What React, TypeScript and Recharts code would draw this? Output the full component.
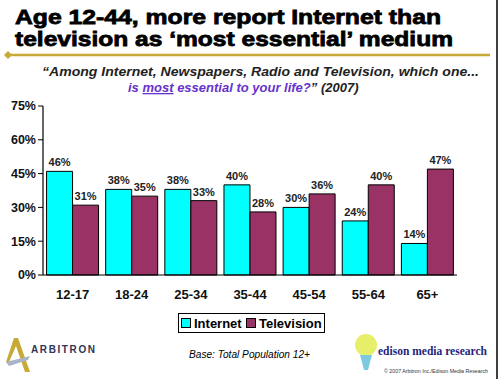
import React from "react";
import { BarChart, Bar, XAxis, YAxis, LabelList } from "recharts";

const categories = ["12-17", "18-24", "25-34", "35-44", "45-54", "55-64", "65+"];
const internetValues = [46, 38, 38, 40, 30, 24, 14];
const televisionValues = [31, 35, 33, 28, 36, 40, 47];
const yTicks = [0, 15, 30, 45, 60, 75];
const boundaryTicks = [0, 1, 2, 3, 4, 5, 6, 7];

const data = categories.map((c, i) => ({
  age: c,
  internet: internetValues[i],
  television: televisionValues[i],
}));

const FONT = "'Liberation Sans', Arial, sans-serif";
const CYAN = "#00FFFF";
const MAROON = "#993366";

export default function App() {
  return (
    <div style={{ position: "absolute", left: 0, top: 0, width: 500, height: 379, background: "#fff", fontFamily: FONT }}>
      <BarChart
        width={500}
        height={379}
        data={data}
        margin={{ top: 106, right: 43, bottom: 74, left: 8 }}
        barCategoryGap="6%"
        barGap={0}
      >
        <XAxis
          xAxisId="grid"
          type="number"
          domain={[0, 7]}
          ticks={boundaryTicks}
          tick={false}
          axisLine={false}
          tickLine={{ stroke: "#000" }}
          tickSize={5}
          height={0}
        />
        <XAxis
          dataKey="age"
          xAxisId="cat"
          axisLine={{ stroke: "#000", strokeWidth: 1.2 }}
          tickLine={false}
          tickMargin={9}
          height={30}
          tick={{ fill: "#111", fontSize: 13, fontWeight: "bold", fontFamily: FONT }}
        />
        <YAxis
          domain={[0, 75]}
          ticks={yTicks}
          width={35}
          tickFormatter={(v: number) => `${v}%`}
          axisLine={{ stroke: "#000", strokeWidth: 1.2 }}
          tickLine={{ stroke: "#000" }}
          tickSize={5}
          tickMargin={2}
          tick={{ fill: "#111", fontSize: 12.5, fontWeight: "bold", fontFamily: FONT }}
        />
        <Bar dataKey="internet" xAxisId="cat" fill={CYAN} stroke="#000" strokeWidth={1} isAnimationActive={false}>
          <LabelList
            dataKey="internet"
            position="top"
            offset={5}
            formatter={(v: number) => `${v}%`}
            style={{ fill: "#222", fontSize: 11, fontWeight: "bold", fontFamily: FONT }}
          />
        </Bar>
        <Bar dataKey="television" xAxisId="cat" fill={MAROON} stroke="#000" strokeWidth={1} isAnimationActive={false}>
          <LabelList
            dataKey="television"
            position="top"
            offset={5}
            formatter={(v: number) => `${v}%`}
            style={{ fill: "#222", fontSize: 11, fontWeight: "bold", fontFamily: FONT }}
          />
        </Bar>
      </BarChart>

      <svg width={500} height={379} style={{ position: "absolute", left: 0, top: 0, pointerEvents: "none" }}>
        <text x={15} y={24} fontFamily={FONT} fontWeight="bold" fontSize={21} fill="#000" stroke="#000" strokeWidth={0.8} textLength={426} lengthAdjust="spacingAndGlyphs">
          Age 12-44, more report Internet than
        </text>
        <text x={15} y={46} fontFamily={FONT} fontWeight="bold" fontSize={21} fill="#000" stroke="#000" strokeWidth={0.8} textLength={438} lengthAdjust="spacingAndGlyphs">
          television as ‘most essential’ medium
        </text>
        <line x1={8} y1={55} x2={490} y2={55} stroke="#C9A935" strokeWidth={2.5} />
        <polygon points="4,55 8,51 12,55 8,59" fill="#C9A935" />
        <line x1={497} y1={0} x2={497} y2={379} stroke="#000" strokeWidth={1.5} />

        <text x={42} y={76} fontFamily={FONT} fontWeight="bold" fontStyle="italic" fontSize={13} fill="#222" textLength={437} lengthAdjust="spacingAndGlyphs">
          “Among Internet, Newspapers, Radio and Television, which one...
        </text>
        <text x={128} y={92} fontFamily={FONT} fontWeight="bold" fontStyle="italic" fontSize={13} fill="#6633CC">
          <tspan>is </tspan>
          <tspan textDecoration="underline" style={{ textDecoration: "underline" }}>most</tspan>
          <tspan> essential to your life?</tspan>
          <tspan fill="#222">” (2007)</tspan>
        </text>

        <rect x={178.5} y={313.5} width={146} height={19} fill="#fff" stroke="#000" strokeWidth={1} />
        <rect x={181.5} y={318.5} width={9} height={9} fill={CYAN} stroke="#000" strokeWidth={1} />
        <text x={194} y={328} fontFamily={FONT} fontWeight="bold" fontSize={13} fill="#000">Internet</text>
        <rect x={246.5} y={318.5} width={9} height={9} fill={MAROON} stroke="#000" strokeWidth={1} />
        <text x={259} y={328} fontFamily={FONT} fontWeight="bold" fontSize={13} fill="#000">Television</text>

        <polygon points="14,338 18,338 30,372 25,372 16,346 9,362 6,362" fill="#C9A935" />
        <polygon points="6,362 30,356 28,360 9,366" fill="#A9B4C8" />
        <text x={31} y={353} fontFamily={FONT} fontWeight="bold" fontSize={10} fill="#333355" textLength={64} lengthAdjust="spacing">ARBITRON</text>

        <text x={189} y={358} fontFamily={FONT} fontStyle="italic" fontSize={10} fill="#000" textLength={121} lengthAdjust="spacingAndGlyphs">
          Base:  Total Population 12+
        </text>

        <circle cx={366} cy={345} r={11} fill="#E6EE6A" />
        <polygon points="360,355 372,355 368,370 364,370" fill="#7FC9E0" />
        <text x={378} y={355} fontFamily="'Liberation Serif', serif" fontWeight="bold" fontSize={13} fill="#1F1F7A" textLength={109} lengthAdjust="spacingAndGlyphs">
          edison media research
        </text>
        <text x={384} y={373} fontFamily={FONT} fontSize={5} fill="#333" textLength={104} lengthAdjust="spacingAndGlyphs">
          © 2007 Arbitron Inc./Edison Media Research
        </text>
      </svg>
    </div>
  );
}
